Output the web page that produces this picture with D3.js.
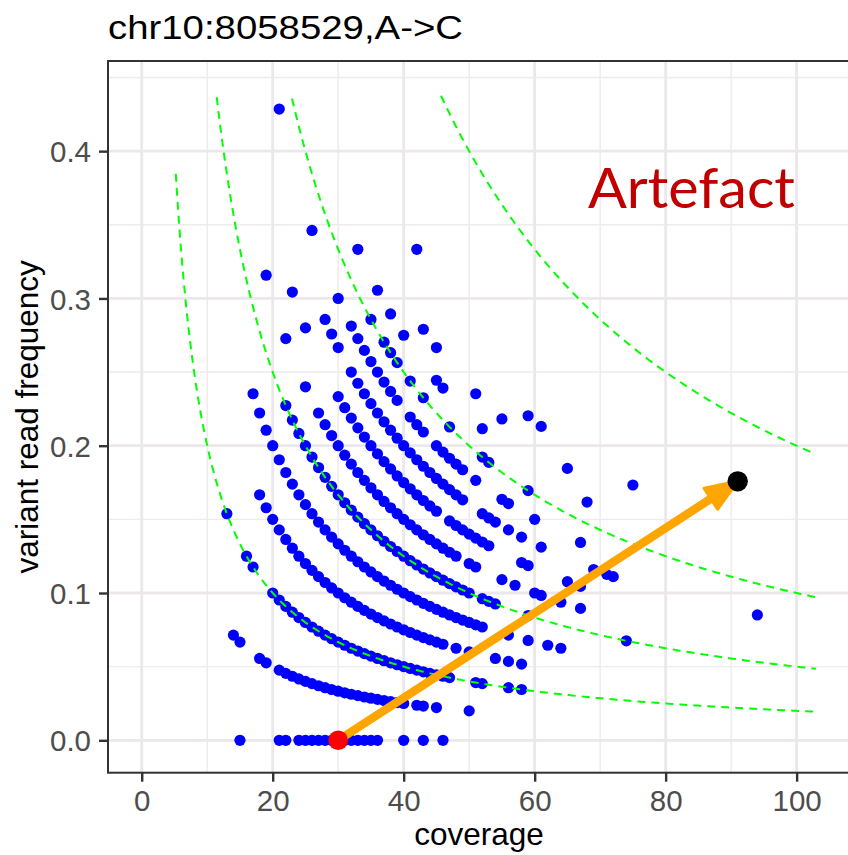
<!DOCTYPE html>
<html>
<head>
<meta charset="utf-8">
<script src="https://cdn.jsdelivr.net/npm/d3@7"></script>
<style>
  html, body { margin: 0; padding: 0; background: #ffffff; }
  svg { display: block; }
</style>
</head>
<body>
<svg id="chart" width="848" height="855"></svg>
<script>
// Coverage of every sample, grouped by its number of variant (alt) reads.
const depthAlt0  = [15, 21, 22, 24, 25, 26, 27, 28, 29, 30, 31, 32, 33, 34, 35, 36, 40, 43, 46];
const depthAlt1  = [14, 15, 18, 19, 21, 22, 23, 24, 25, 26, 27, 28, 29, 30, 31, 32, 33, 34, 35, 36, 37, 38, 39, 40, 42, 43, 45, 50];
const depthAlt2  = [13, 16, 17, 20, 21, 22, 23, 24, 25, 26, 27, 28, 29, 30, 31, 32, 33, 34, 35, 36, 37, 38, 39, 40, 41, 42, 43, 44, 45, 46, 47, 51, 52, 56, 58];
const depthAlt3  = [18, 19, 20, 21, 22, 23, 24, 25, 26, 27, 28, 29, 30, 31, 32, 33, 34, 35, 36, 37, 38, 39, 40, 41, 42, 43, 44, 45, 46, 48, 50, 54, 56, 58];
const depthAlt4  = [17, 18, 19, 20, 21, 22, 23, 24, 25, 26, 27, 28, 29, 30, 31, 32, 33, 34, 35, 36, 37, 38, 39, 40, 41, 42, 43, 44, 45, 46, 47, 48, 49, 50, 51, 52, 56, 59, 62, 64];
const depthAlt5  = [22, 23, 24, 25, 26, 27, 28, 29, 30, 31, 32, 33, 34, 35, 36, 37, 38, 39, 40, 41, 42, 43, 44, 45, 46, 47, 48, 49, 50, 52, 53, 54, 59, 74];
const depthAlt6  = [19, 22, 25, 27, 28, 29, 30, 31, 32, 33, 34, 35, 36, 37, 38, 39, 40, 41, 42, 43, 44, 45, 46, 47, 48, 50, 51, 55, 57, 60, 61, 64, 67];
const depthAlt7  = [23, 25, 30, 31, 32, 33, 34, 35, 36, 37, 38, 39, 40, 41, 42, 43, 44, 45, 47, 48, 49, 50, 51, 52, 53, 58, 59, 65, 67];
const depthAlt8  = [28, 29, 30, 32, 33, 34, 35, 36, 37, 38, 39, 40, 41, 42, 43, 44, 45, 46, 47, 48, 49, 52, 53, 54, 56, 58, 61, 69, 71, 72, 94];
const depthAlt9  = [21, 26, 30, 32, 33, 34, 35, 36, 37, 38, 39, 41, 42, 43, 45, 46, 47, 48, 49, 51, 55, 56, 60, 67];
const depthAlt10 = [35, 37, 38, 39, 41, 43, 47, 52, 53, 59];
const depthAlt11 = [33, 36, 38, 40, 45, 46, 52, 68];
const depthAlt12 = [43, 45, 51, 55, 65];
const depthAlt13 = [59, 61, 75];
const depthAlt14 = [42];

const altReadCounts = [0, 1, 2, 3, 4, 5, 6, 7, 8, 9, 10, 11, 12, 13, 14];
const depthByAlt = [depthAlt0, depthAlt1, depthAlt2, depthAlt3, depthAlt4, depthAlt5, depthAlt6,
                    depthAlt7, depthAlt8, depthAlt9, depthAlt10, depthAlt11, depthAlt12, depthAlt13, depthAlt14];

// Guide curves: frequency reached by a fixed number of alt reads at each coverage.
const guideAltReads = [2, 5, 10, 20];
const guideCoverageRange = [5.2, 103];
const guideMaxFreq = 0.44;

// The sample of interest before (red) and after (black) the shift.
const sampleBefore = { coverage: 30, freq: 0 };
const sampleAfter  = { coverage: 91, freq: 16 / 91 };

const xTicks = [0, 20, 40, 60, 80, 100];
const xMinor = [10, 30, 50, 70, 90];
const yTicks = [0, 0.1, 0.2, 0.3, 0.4];
const yMinor = [0.05, 0.15, 0.25, 0.35, 0.45];

const titleText = "chr10:8058529,A->C";
const xTitle = "coverage";
const yTitle = "variant read frequency";
const noteText = "Artefact";

// ---------------------------------------------------------------
const svg = d3.select("#chart");
const panel = { left: 108, right: 850, top: 61, bottom: 772.7 };

const x = d3.scaleLinear().domain([-5.15, 108.15]).range([panel.left, panel.right]);
const y = d3.scaleLinear().domain([-0.022, 0.4612]).range([panel.bottom, panel.top]);

const points = [];
altReadCounts.forEach((k, i) => {
  depthByAlt[i].forEach(n => points.push({ coverage: n, freq: k / n }));
});

const fontMain = "'Liberation Sans', Arial, Helvetica, sans-serif";

svg.append("defs").append("clipPath").attr("id", "panelClip")
  .append("rect")
  .attr("x", panel.left).attr("y", panel.top)
  .attr("width", panel.right - panel.left).attr("height", panel.bottom - panel.top);

const plot = svg.append("g").attr("clip-path", "url(#panelClip)");

// grid
plot.append("g").selectAll("line").data(xMinor).join("line")
  .attr("x1", d => x(d)).attr("x2", d => x(d))
  .attr("y1", panel.top).attr("y2", panel.bottom)
  .attr("stroke", "#EEEAEE").attr("stroke-width", 1.4);
plot.append("g").selectAll("line").data(yMinor).join("line")
  .attr("y1", d => y(d)).attr("y2", d => y(d))
  .attr("x1", panel.left).attr("x2", panel.right)
  .attr("stroke", "#EEEAEE").attr("stroke-width", 1.4);
plot.append("g").selectAll("line").data(xTicks).join("line")
  .attr("x1", d => x(d)).attr("x2", d => x(d))
  .attr("y1", panel.top).attr("y2", panel.bottom)
  .attr("stroke", "#EBE7EB").attr("stroke-width", 2.8);
plot.append("g").selectAll("line").data(yTicks).join("line")
  .attr("y1", d => y(d)).attr("y2", d => y(d))
  .attr("x1", panel.left).attr("x2", panel.right)
  .attr("stroke", "#EBE7EB").attr("stroke-width", 2.8);

// sample points
plot.append("g").selectAll("circle").data(points).join("circle")
  .attr("cx", d => x(d.coverage))
  .attr("cy", d => y(d.freq))
  .attr("r", 5.6)
  .attr("fill", "#0000FF");

// dashed guide curves
const guideLine = d3.line().x(d => x(d[0])).y(d => y(d[1]));
guideAltReads.forEach(c => {
  const pts = [];
  for (let n = guideCoverageRange[0]; n <= guideCoverageRange[1] + 1e-9; n += 0.25) {
    const f = c / n;
    if (f <= guideMaxFreq) pts.push([n, f]);
  }
  plot.append("path")
    .attr("d", guideLine(pts))
    .attr("fill", "none")
    .attr("stroke", "#00FF00")
    .attr("stroke-width", 2)
    .attr("stroke-dasharray", "8,6");
});

// panel border
svg.append("rect")
  .attr("x", panel.left).attr("y", panel.top)
  .attr("width", panel.right - panel.left).attr("height", panel.bottom - panel.top)
  .attr("fill", "none").attr("stroke", "#333333").attr("stroke-width", 2);

// axes
const xAxis = svg.append("g")
  .attr("transform", `translate(0,${panel.bottom})`)
  .call(d3.axisBottom(x).tickValues(xTicks).tickFormat(d3.format("d")).tickSize(9).tickPadding(8));
const yAxis = svg.append("g")
  .attr("transform", `translate(${panel.left},0)`)
  .call(d3.axisLeft(y).tickValues(yTicks).tickFormat(d3.format(".1f")).tickSize(9).tickPadding(8));
[xAxis, yAxis].forEach(a => {
  a.select(".domain").remove();
  a.selectAll(".tick line").attr("stroke", "#333333").attr("stroke-width", 2.4);
  a.selectAll(".tick text")
    .attr("fill", "#4D4D4D")
    .style("font-family", fontMain)
    .style("font-size", "29.5px");
});
yAxis.selectAll(".tick text").attr("dy", "0.36em");
xAxis.selectAll(".tick text").attr("dy", "0.72em");

// titles
svg.append("text")
  .attr("x", panel.left).attr("y", 38.5)
  .attr("textLength", 355).attr("lengthAdjust", "spacingAndGlyphs")
  .style("font-family", fontMain).style("font-size", "33px")
  .attr("fill", "#000000")
  .text(titleText);

svg.append("text")
  .attr("x", (panel.left + panel.right) / 2).attr("y", 845)
  .attr("text-anchor", "middle")
  .style("font-family", fontMain).style("font-size", "31.5px")
  .attr("fill", "#000000")
  .text(xTitle);

svg.append("text")
  .attr("transform", `translate(38,${(panel.top + panel.bottom) / 2}) rotate(-90)`)
  .attr("text-anchor", "middle")
  .style("font-family", fontMain).style("font-size", "31.5px")
  .attr("fill", "#000000")
  .text(yTitle);

// annotation text
svg.append("text")
  .attr("x", 588).attr("y", 208)
  .attr("textLength", 207).attr("lengthAdjust", "spacingAndGlyphs")
  .style("font-family", "Lato, 'Open Sans', sans-serif").style("font-size", "57px")
  .attr("fill", "#C00000")
  .text(noteText);

// arrow from the red sample to the black one
const ax0 = x(sampleBefore.coverage), ay0 = y(sampleBefore.freq);
const ax1 = x(sampleAfter.coverage),  ay1 = y(sampleAfter.freq);
const ang = Math.atan2(ay1 - ay0, ax1 - ax0);
const headLen = 32, headHalf = 12.5;
const bx = ax1 - headLen * Math.cos(ang), by = ay1 - headLen * Math.sin(ang);
const arrow = svg.append("g");
arrow.append("line")
  .attr("x1", ax0).attr("y1", ay0).attr("x2", bx + 2 * Math.cos(ang)).attr("y2", by + 2 * Math.sin(ang))
  .attr("stroke", "#FFA500").attr("stroke-width", 8.5);
arrow.append("path")
  .attr("d", `M${ax1},${ay1} L${bx - headHalf * Math.sin(ang)},${by + headHalf * Math.cos(ang)} L${bx + headHalf * Math.sin(ang)},${by - headHalf * Math.cos(ang)} Z`)
  .attr("fill", "#FFA500").attr("stroke", "#FFA500").attr("stroke-width", 3).attr("stroke-linejoin", "round");

svg.append("circle").attr("cx", ax0).attr("cy", ay0).attr("r", 9.8).attr("fill", "#FF0000");
svg.append("circle").attr("cx", ax1).attr("cy", ay1).attr("r", 10.2).attr("fill", "#000000");
</script>
</body>
</html>
